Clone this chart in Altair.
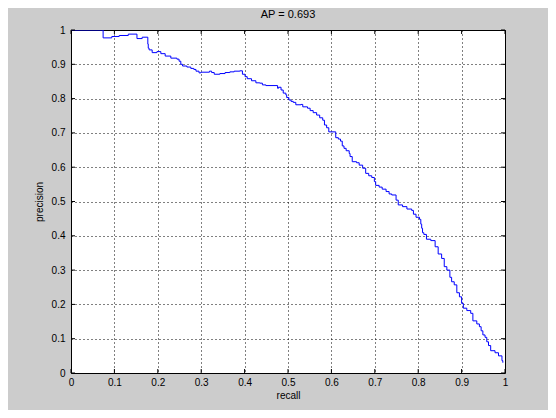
import altair as alt
import pandas as pd

recall = [0.000, 0.074, 0.094, 0.111, 0.132, 0.152, 0.164, 0.177, 0.178, 0.180,
          0.187, 0.198, 0.207, 0.217, 0.230, 0.244, 0.249, 0.253, 0.257, 0.267,
          0.276, 0.283, 0.288, 0.295, 0.299, 0.319, 0.324, 0.330, 0.343, 0.355,
          0.366, 0.376, 0.389, 0.395, 0.401, 0.406, 0.416, 0.426, 0.435, 0.441,
          0.449, 0.476, 0.478, 0.484, 0.489, 0.495, 0.497, 0.502, 0.507, 0.512,
          0.518, 0.530, 0.534, 0.545, 0.551, 0.558, 0.566, 0.573, 0.580, 0.584,
          0.589, 0.594, 0.610, 0.616, 0.621, 0.625, 0.629, 0.634, 0.641, 0.643,
          0.648, 0.658, 0.664, 0.672, 0.679, 0.686, 0.693, 0.699, 0.702, 0.710,
          0.717, 0.726, 0.733, 0.739, 0.749, 0.754, 0.764, 0.774, 0.785, 0.789,
          0.795, 0.803, 0.806, 0.808, 0.810, 0.813, 0.819, 0.829, 0.839, 0.846,
          0.854, 0.860, 0.866, 0.873, 0.877, 0.883, 0.889, 0.895, 0.900, 0.904,
          0.912, 0.921, 0.926, 0.935, 0.941, 0.945, 0.949, 0.954, 0.958, 0.962,
          0.967, 0.977, 0.985, 0.993, 0.995]
precision = [1.000, 0.977, 0.981, 0.984, 0.988, 0.975, 0.979, 0.959, 0.947, 0.942,
             0.934, 0.937, 0.931, 0.924, 0.918, 0.915, 0.909, 0.900, 0.895, 0.892,
             0.888, 0.885, 0.880, 0.875, 0.877, 0.880, 0.876, 0.871, 0.873, 0.876,
             0.878, 0.880, 0.881, 0.871, 0.864, 0.858, 0.852, 0.846, 0.845, 0.840,
             0.838, 0.830, 0.833, 0.825, 0.816, 0.811, 0.803, 0.796, 0.792, 0.789,
             0.782, 0.783, 0.776, 0.772, 0.765, 0.759, 0.752, 0.744, 0.737, 0.723,
             0.715, 0.703, 0.686, 0.682, 0.676, 0.662, 0.655, 0.648, 0.640, 0.631,
             0.616, 0.613, 0.606, 0.597, 0.582, 0.575, 0.570, 0.558, 0.547, 0.542,
             0.536, 0.529, 0.522, 0.519, 0.504, 0.490, 0.485, 0.478, 0.474, 0.463,
             0.454, 0.448, 0.434, 0.422, 0.409, 0.404, 0.390, 0.386, 0.368, 0.347,
             0.334, 0.310, 0.300, 0.279, 0.266, 0.257, 0.234, 0.222, 0.203, 0.189,
             0.182, 0.174, 0.152, 0.143, 0.135, 0.123, 0.111, 0.104, 0.091, 0.080,
             0.065, 0.059, 0.050, 0.036, 0.030]

ticks = [0, 0.1, 0.2, 0.3, 0.4, 0.5, 0.6, 0.7, 0.8, 0.9, 1]

FONT = "Liberation Sans"
W, H = 434, 343

df = pd.DataFrame({"recall": recall, "precision": precision})
tdf = pd.DataFrame({"t": ticks})

xscale = alt.Scale(domain=[0, 1], nice=False, zero=False)
yscale = alt.Scale(domain=[0, 1], nice=False, zero=False)

common = dict(values=ticks, format="~g", grid=True,
              gridDash=[1, 3], gridColor="#000000", gridOpacity=1, gridWidth=1,
              ticks=False, domain=False, labelFontSize=10, labelOverlap=False,
              labelFlush=False, labelBound=False,
              labelFont=FONT, labelColor="#000000", titleFont=FONT,
              titleFontSize=10, titleFontWeight="normal", titleColor="#000000")
xaxis = alt.Axis(title="recall", labelPadding=4, titlePadding=3, **common)
yaxis = alt.Axis(title="precision", labelPadding=6, titlePadding=7, **common)

line = alt.Chart(df).mark_line(color="#0000ff", strokeWidth=1,
                               interpolate="step-after", clip=True).encode(
    x=alt.X("recall:Q", scale=xscale, axis=xaxis),
    y=alt.Y("precision:Q", scale=yscale, axis=yaxis),
)

tk = alt.Chart(tdf)
bottom_ticks = tk.mark_rule(color="#000000", strokeWidth=1).encode(
    x=alt.X("t:Q", scale=xscale, axis=xaxis), y=alt.value(H), y2=alt.value(H - 4))
top_ticks = tk.mark_rule(color="#000000", strokeWidth=1).encode(
    x=alt.X("t:Q", scale=xscale, axis=xaxis), y=alt.value(0), y2=alt.value(4))
left_ticks = tk.mark_rule(color="#000000", strokeWidth=1).encode(
    y=alt.Y("t:Q", scale=yscale, axis=yaxis), x=alt.value(0), x2=alt.value(4))
right_ticks = tk.mark_rule(color="#000000", strokeWidth=1).encode(
    y=alt.Y("t:Q", scale=yscale, axis=yaxis), x=alt.value(W), x2=alt.value(W - 4))

chart = alt.layer(line, bottom_ticks, top_ticks, left_ticks, right_ticks).properties(
    width=W, height=H,
    title=alt.Title("AP = 0.693", font=FONT, fontSize=11, fontWeight="normal",
                    color="#000000", offset=5),
    background="#cccccc",
    padding={"left": 63, "top": 22, "right": 43, "bottom": 37},
    autosize=alt.AutoSizeParams(type="none"),
).configure_view(
    fill="#ffffff", stroke="#000000", strokeWidth=1
)

chart.save("out.html", embed_options={"renderer": "svg", "actions": False})
